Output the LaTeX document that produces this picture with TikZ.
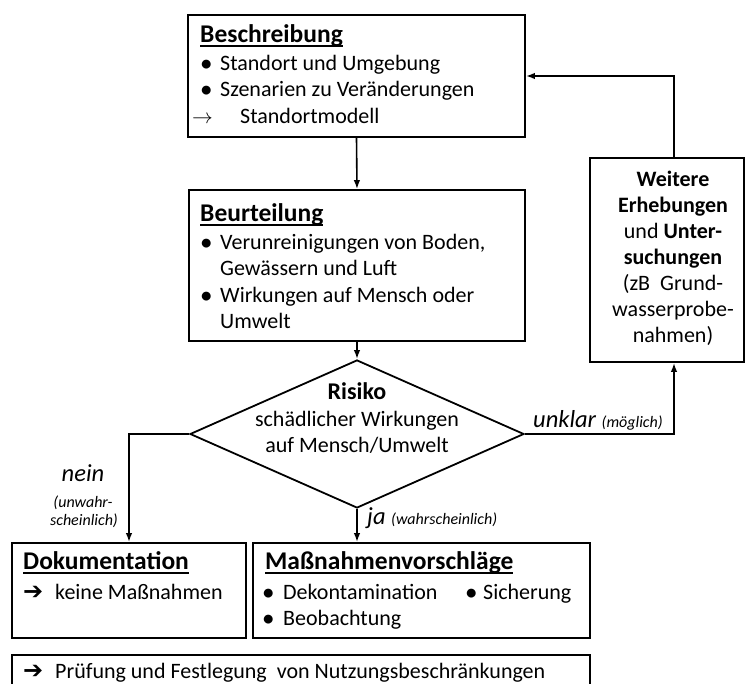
\documentclass[tikz,border=0pt]{standalone}
\usepackage{fontspec}
\setmainfont{Carlito}
\newfontfamily\symf{DejaVu Sans}
\usetikzlibrary{shapes.geometric,arrows.meta}
\newcommand\fs{\fontsize{22}{26}\selectfont}
\newcommand\ft{\fontsize{25.5}{30}\selectfont}
\newcommand\fbig{\fontsize{24.5}{28}\selectfont}
\newcommand\sm{\fontsize{16}{18}\selectfont}
\newcommand\ulx[1]{\setbox0\hbox{#1}\rlap{\rule[-3.8pt]{\wd0}{1.5pt}}\box0}
\newcommand\harr{{\symf\fontsize{24}{26}\selectfont\bfseries ➔}}
\newcommand\bul{{\fontsize{21}{24}\selectfont\bfseries •}}
\begin{document}
\begin{tikzpicture}[x=1pt,y=-1pt,
  box/.style={draw, line width=1.8pt, inner sep=0pt},
  arr/.style={line width=1.6pt, -{Latex[length=9pt,width=6.5pt]}},
  t/.style={anchor=base west, inner sep=0pt, font=\fs},
  tt/.style={anchor=base west, inner sep=0pt, font=\ft\bfseries},
  tc/.style={anchor=base, inner sep=0pt, font=\fs}]
\useasboundingbox (0,0) rectangle (745,684);
\clip (0,0) rectangle (745,684);
\fill[white] (0,0) rectangle (745,684);

% boxes
\node[box, minimum width=337pt, minimum height=122pt] (besch) at (356.5,76) {};
\node[box, minimum width=336pt, minimum height=151pt] (beurt) at (357,265.5) {};
\node[box, diamond, minimum width=334pt, minimum height=148pt] (risk) at (357,434) {};
\node[box, minimum width=154pt, minimum height=204pt] (weitere) at (667,260) {};
\node[box, minimum width=234pt, minimum height=95pt] (doku) at (129,590.5) {};
\node[box, minimum width=337pt, minimum height=95pt] (mass) at (421.5,590.5) {};
\node[box, minimum width=578pt, minimum height=60pt] (pruef) at (301,685) {};

% connectors
\draw[arr] (besch.south) -- (beurt.north);
\draw[arr] (beurt.south) -- (risk.north);
\draw[arr] (risk.east) -| ([xshift=7pt]weitere.south);
\draw[arr] ([xshift=7pt]weitere.north) |- (besch.east);
\draw[arr] (risk.west) -| (doku.north);
\draw[arr] (risk.south) -- (risk.south |- mass.north);

% Beschreibung
\node[tt] (b0) at (200,43) {\ulx{Beschreibung}};
\node[t] (b1a) at (201,71) {\bul};
\node[t] (b1) at (220,71) {Standort und Umgebung};
\node[t] (b2a) at (201,97) {\bul};
\node[t] (b2) at (220,97) {Szenarien zu Veränderungen};
\node[t] (b3a) at (192,124) {$\rightarrow$};
\node[t] (b3) at (240,124) {Standortmodell};

% Beurteilung
\node[tt] (u0) at (200,222) {\ulx{Beurteilung}};
\node[t] (u1a) at (201,250) {\bul};
\node[t] (u1) at (220,250) {Verunreinigungen von Boden,};
\node[t] (u2) at (220,276) {Gewässern und Luft};
\node[t] (u3a) at (201,303) {\bul};
\node[t] (u3) at (220,303) {Wirkungen auf Mensch oder};
\node[t] (u4) at (220,329) {Umwelt};

% Weitere
\node[tc] (w1) at (673,187) {\textbf{Weitere}};
\node[tc] (w2) at (673,213) {\textbf{Erhebungen}};
\node[tc] (w3) at (673,239) {und \textbf{Unter-}};
\node[tc] (w4) at (673,265) {\textbf{suchungen}};
\node[tc] (w5) at (673,291) {(zB\ \ Grund-};
\node[tc] (w6) at (673,317) {wasserprobe-};
\node[tc] (w7) at (673,343) {nahmen)};

% Risiko
\node[tc, font=\fontsize{24}{28}\selectfont\bfseries] (r1) at (357,400) {Risiko};
\node[tc] (r2) at (357,427) {schädlicher Wirkungen};
\node[tc] (r3) at (357,453) {auf Mensch/Umwelt};

% labels
\node[t, font=\fbig\itshape] (lu) at (533,428) {unklar {\sm(möglich)}};
\node[tc, font=\fbig\itshape] (ln1) at (83,482) {nein};
\node[tc, font=\sm\itshape] (ln2) at (83,508) {(unwahr-};
\node[tc, font=\sm\itshape] (ln3) at (84,526) {scheinlich)};
\node[t, font=\fbig\itshape] (lj) at (367,525) {ja {\sm(wahrscheinlich)}};

% Dokumentation
\node[tt] (d0) at (23,570) {\ulx{Dokumentation}};
\node[t] (d1a) at (23,600) {\harr};
\node[t] (d1) at (55,600) {keine Maßnahmen};

% Massnahmen
\node[tt] (m0) at (265,570) {\ulx{Maßnahmenvorschläge}};
\node[t] (m1a) at (263,600) {\bul};
\node[t] (m1) at (283,600) {Dekontamination};
\node[t] (m2a) at (466,600) {\bul};
\node[t] (m2) at (483,600) {Sicherung};
\node[t] (m3a) at (263,625) {\bul};
\node[t] (m3) at (283,625) {Beobachtung};

% Pruefung
\node[t] (p1a) at (23,678) {\harr};
\node[t] (p1) at (55,678) {Prüfung und Festlegung\ \ von Nutzungsbeschränkungen};
\end{tikzpicture}
\end{document}
